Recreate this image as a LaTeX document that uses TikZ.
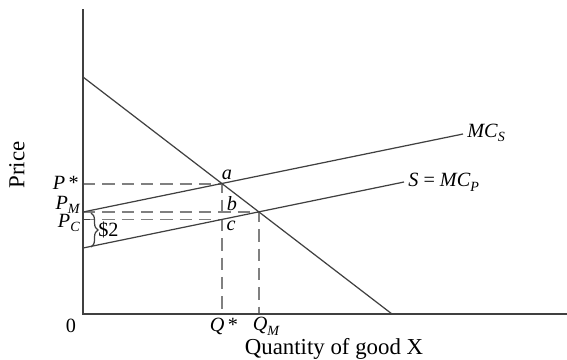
\documentclass[tikz,border=0pt]{standalone}
\usepackage{fontspec}
\setmainfont{Liberation Serif}
\usetikzlibrary{decorations.pathreplacing}
\newcommand\subi[1]{\raisebox{-0.5ex}{\fontsize{8}{9}\selectfont\itshape #1}}
\tikzset{
  ln/.style={line width=0.7pt, draw=black!75},
  dsh/.style={line width=0.9pt, draw=black!50, dash pattern=on 7pt off 4pt},
  lbl/.style={font=\fontsize{11.5}{13}\selectfont, inner sep=0pt},
  ttl/.style={font=\fontsize{13}{14}\selectfont, inner sep=0pt},
}
\begin{document}
\begin{tikzpicture}[x=0.02cm, y=-0.02cm]
\useasboundingbox (0,0) rectangle (567,359);
% key points
\coordinate (O) at (83,314);
\coordinate (ytop) at (83,9);
\coordinate (xend) at (567,314);
\coordinate (d1) at (83,77);
\coordinate (d2) at (392,314);
\coordinate (s1) at (83,212);
\coordinate (s2) at (463,134);
\coordinate (p1) at (83,248);
\coordinate (p2) at (404,182);
\coordinate (A) at (222,184);
\coordinate (B) at (259,212);
\coordinate (C) at (222,219.6);
\coordinate (yA) at (83,184);
\coordinate (yB) at (83,212);
\coordinate (yC) at (83,219.6);
\coordinate (xA) at (222,314);
\coordinate (xB) at (259,314);
\coordinate (tick) at (90,219.6);
\coordinate (br1) at (91,213);
\coordinate (br2) at (91,247);
% dashed guides
\draw[dsh] (yA) -- (A) -- (xA);
\draw[dsh] (yB) -- (B) -- (xB);
\draw[dsh] (yC) -- (C);
% axes
\draw[ln] (ytop) -- (O) -- (xend);
% curves
\draw[ln] (d1) -- (d2);
\draw[ln] (s1) -- (s2);
\draw[ln] (p1) -- (p2);
\draw[ln] (yC) -- (tick);
\draw[ln, decorate, decoration={brace, amplitude=4pt}] (br1) -- (br2);
% labels
\node[lbl, anchor=west] (lmcs) at (467,133) {\textit{MC}\subi{S}};
\node[lbl, anchor=west] (lmcp) at (408,182) {\textit{S} = \textit{MC}\subi{P}};
\node[lbl, anchor=east] (lps) at (79,183) {\textit{P}\,*};
\node[lbl, anchor=east] (lpm) at (80,205) {\textit{P}\subi{M}};
\node[lbl, anchor=east] (lpc) at (80,223) {\textit{P}\subi{C}};
\node[lbl, anchor=west] (l2) at (98,230) {\$2};
\node[lbl] (la) at (227,175) {\textit{a}};
\node[lbl] (lb) at (232,204) {\textit{b}};
\node[lbl] (lc) at (231,226) {\textit{c}};
\node[lbl] (l0) at (71,326) {0};
\node[lbl] (lq) at (224,326) {\textit{Q}\,*};
\node[lbl] (lqm) at (266,326) {\textit{Q}\subi{M}};
\node[ttl] (lx) at (334,349) {Quantity of good X};
\node[ttl, rotate=90] (ly) at (17,165) {Price};
\end{tikzpicture}
\end{document}
